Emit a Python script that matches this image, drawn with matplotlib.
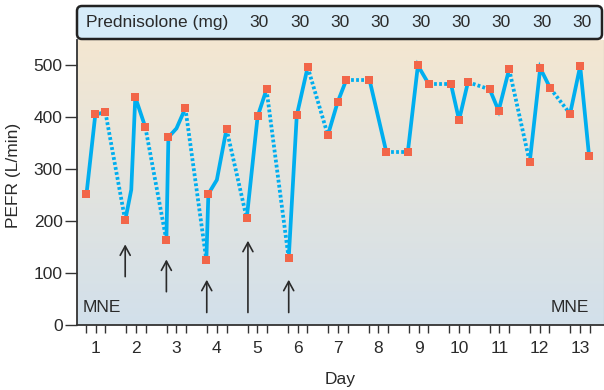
import numpy as np
import matplotlib
matplotlib.use("Agg")
import matplotlib.pyplot as plt
import matplotlib.transforms as mtransforms
from matplotlib.patches import FancyBboxPatch
from matplotlib.colors import LinearSegmentedColormap

plt.rcParams['font.family'] = ['Liberation Sans', 'DejaVu Sans']

# readings: time in days, PEFR in L/min (unmarked points are bends in the line)
times = [0.77, 0.99, 1.24, 1.73, 1.88, 1.98, 2.23, 2.75, 2.80, 3.00, 3.22,
         3.74, 3.79, 4.00, 4.24, 4.74, 5.01, 5.23, 5.78, 5.98, 6.25, 6.75,
         6.99, 7.21, 7.78, 8.20, 8.73, 8.98, 9.25, 9.80, 10.00, 10.22, 10.76,
         10.98, 11.24, 11.75, 12.01, 12.26, 12.75, 13.00, 13.22]
pefr = [251, 405, 409, 201, 260, 438, 380, 163, 361, 378, 417,
        125, 252, 279, 377, 205, 401, 453, 128, 403, 496, 365,
        428, 472, 472, 332, 332, 499, 463, 463, 394, 467, 453,
        412, 492, 313, 494, 455, 406, 498, 325]
unmarked = [4, 9, 13]

# arrows: day, start, end (L/min)
arrow_days = [1.73, 2.75, 3.75, 4.77, 5.78]
arrow_from = [93, 64, 24, 24, 24]
arrow_to = [155, 126, 87, 162, 87]

pred_days = [5, 6, 7, 8, 9, 10, 11, 12, 13]
pred_dose = [30, 30, 30, 30, 30, 30, 30, 30, 30]

days = list(range(1, 14))

LINE = '#00aeef'
MARK = '#f26649'
INK = '#2a2a2a'

W, H = 604, 390
fig = plt.figure(figsize=(W / 100, H / 100), dpi=100)
ax = fig.add_axes([77 / W, (H - 325) / H, 527 / W, 285 / H])

ax.set_xlim(0.536, 13.59)
ax.set_ylim(0, 548)

# background gradient
grad = LinearSegmentedColormap.from_list('bg', ['#d2e0eb', '#f4e7d1'])
ax.imshow(np.linspace(0, 1, 256).reshape(-1, 1), cmap=grad, aspect='auto',
          extent=(0.536, 13.59, 0, 548), origin='lower', zorder=0)

t = np.array(times)
v = np.array(pefr)
day_of = np.rint(t).astype(int)

# solid within a day
for d in np.unique(day_of):
    m = day_of == d
    ax.plot(t[m], v[m], color=LINE, lw=2.7, solid_joinstyle='miter',
            solid_capstyle='butt', zorder=2)
# dotted overnight
for i in range(len(t) - 1):
    if day_of[i] != day_of[i + 1]:
        ax.plot(t[i:i + 2], v[i:i + 2], color=LINE, lw=2.7,
                dashes=(0.75, 0.6), dash_capstyle='butt', zorder=2)

mask = np.ones(len(t), bool)
mask[unmarked] = False
ax.plot(t[mask], v[mask], ls='none', marker='s', ms=6.3, mfc=MARK,
        mec=MARK, mew=0, zorder=3)

for x, a, b in zip(arrow_days, arrow_from, arrow_to):
    ax.annotate('', xy=(x, b), xytext=(x, a),
                arrowprops=dict(arrowstyle='->,head_length=0.55,head_width=0.3',
                                color=INK, lw=1.2, mutation_scale=12,
                                shrinkA=0, shrinkB=0), zorder=4)

ax.text(0.685, 34, 'MNE', fontsize=12.5, color=INK, va='center', ha='left')
ax.text(13.23, 34, 'MNE', fontsize=12.5, color=INK, va='center', ha='right')

# axes styling
ax.spines['top'].set_visible(False)
ax.spines['right'].set_color('#9a9a9a')
ax.spines['right'].set_linewidth(0.8)
for s in ['left', 'bottom']:
    ax.spines[s].set_color('#333333')
    ax.spines[s].set_linewidth(1.3)

ax.set_yticks([0, 100, 200, 300, 400, 500])
ax.tick_params(axis='y', direction='out', length=8.4, width=1.0,
               color='#333333', labelsize=12.5, labelcolor=INK, pad=2)
ax.set_xticks(days)
ax.set_xticks([d + o for d in days for o in (-0.24, 0.24)], minor=True)
ax.tick_params(axis='x', which='both', direction='out', length=5.8,
               width=1.0, color='#333333')
ax.tick_params(axis='x', which='major', labelsize=12.5, labelcolor=INK, pad=6)

ax.set_xlabel('Day', fontsize=12.5, color=INK, labelpad=11)
fig.text(14 / W, 1 - 175 / H, 'PEFR (L/min)', rotation=90, fontsize=12.5,
         color=INK, ha='center', va='center')

# header band
hax = fig.add_axes([76 / W, (H - 40) / H, 527 / W, 35 / H])
hax.set_xlim(0, 527)
hax.set_ylim(0, 35)
hax.axis('off')
hax.add_patch(FancyBboxPatch((1, 1), 525, 33, boxstyle='round,pad=0,rounding_size=5',
                             fc='#d6ecf9', ec='#222222', lw=1.8, clip_on=False))
hax.text(10, 17.5, 'Prednisolone (mg)', fontsize=12.5, color=INK,
         ha='left', va='center')
blend = mtransforms.blended_transform_factory(ax.transData, hax.transAxes)
for d, dose in zip(pred_days, pred_dose):
    hax.text(d + 0.05, 0.5, str(dose), transform=blend, fontsize=12.5,
             color=INK, ha='center', va='center', clip_on=False)

fig.savefig('out.png', dpi=100)
